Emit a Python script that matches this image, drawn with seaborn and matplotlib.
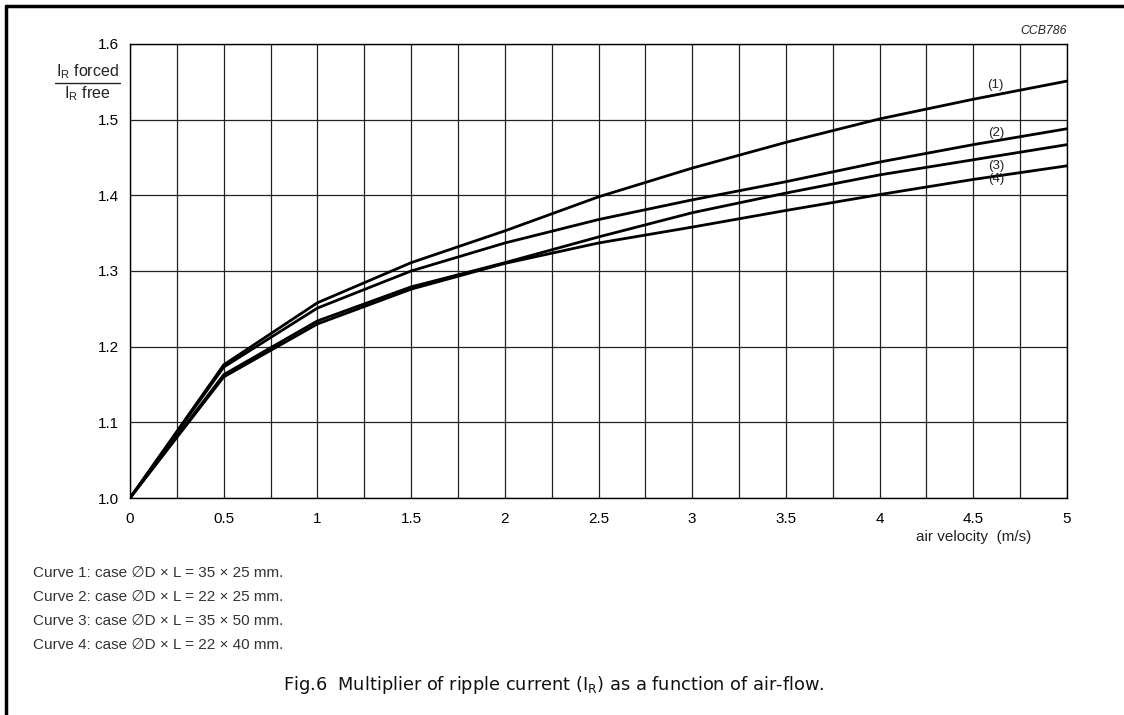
import numpy as np
import pandas as pd
import matplotlib
matplotlib.use("Agg")
import matplotlib.pyplot as plt
from matplotlib.lines import Line2D
import seaborn as sns

# data
air_velocity = [0, 0.5, 1, 1.5, 2, 2.5, 3, 3.5, 4, 4.5, 5]
curve_1 = [1.0, 1.176, 1.258, 1.311, 1.353, 1.398, 1.436, 1.470, 1.501, 1.527, 1.551]
curve_2 = [1.0, 1.173, 1.251, 1.300, 1.337, 1.368, 1.394, 1.418, 1.444, 1.467, 1.488]
curve_3 = [1.0, 1.163, 1.234, 1.279, 1.311, 1.345, 1.377, 1.403, 1.427, 1.447, 1.467]
curve_4 = [1.0, 1.160, 1.230, 1.276, 1.310, 1.337, 1.358, 1.380, 1.401, 1.421, 1.439]
curve_names = ["(1)", "(2)", "(3)", "(4)"]
label_x = [4.62, 4.62, 4.62, 4.62]
label_y = [1.546, 1.483, 1.439, 1.421]

x_ticks = [0, 0.5, 1, 1.5, 2, 2.5, 3, 3.5, 4, 4.5, 5]
x_tick_labels = ["0", "0.5", "1", "1.5", "2", "2.5", "3", "3.5", "4", "4.5", "5"]
y_ticks = [1.0, 1.1, 1.2, 1.3, 1.4, 1.5, 1.6]
y_tick_labels = ["1.0", "1.1", "1.2", "1.3", "1.4", "1.5", "1.6"]

legend_lines = [
    "Curve 1: case \u2205D \u00d7 L = 35 \u00d7 25 mm.",
    "Curve 2: case \u2205D \u00d7 L = 22 \u00d7 25 mm.",
    "Curve 3: case \u2205D \u00d7 L = 35 \u00d7 50 mm.",
    "Curve 4: case \u2205D \u00d7 L = 22 \u00d7 40 mm.",
]

# long form table for seaborn
df = pd.DataFrame({
    "v": air_velocity * 4,
    "mult": curve_1 + curve_2 + curve_3 + curve_4,
    "curve": sum([[n] * len(air_velocity) for n in curve_names], []),
})

sns.set_theme(style="white")
plt.rcParams["font.family"] = ["Liberation Sans", "DejaVu Sans"]
plt.rcParams["mathtext.fontset"] = "custom"
plt.rcParams["mathtext.rm"] = "Liberation Sans"

fig = plt.figure(figsize=(11.24, 7.15), dpi=100)
ax = fig.add_axes([130 / 1124, 1 - 498 / 715, (1067 - 130) / 1124, (498 - 44) / 715])

sns.lineplot(data=df, x="v", y="mult", units="curve", estimator=None,
             color="black", linewidth=2, ax=ax, legend=False, zorder=3)

ax.set_xlim(0, 5)
ax.set_ylim(1.0, 1.6)
ax.set_xticks(x_ticks)
ax.set_xticklabels(x_tick_labels)
ax.set_xticks(np.arange(0, 5.01, 0.25), minor=True)
ax.set_yticks(y_ticks)
ax.set_yticklabels(y_tick_labels)
ax.grid(True, which="both", color="#222222", linewidth=0.9)
ax.tick_params(axis="both", which="both", length=0, labelsize=11, colors="black")
ax.tick_params(axis="x", pad=10)
ax.tick_params(axis="y", pad=8)
for s in ax.spines.values():
    s.set_color("black")
    s.set_linewidth(1)
ax.set_xlabel("")
ax.set_ylabel("")

for n, lx, ly in zip(curve_names, label_x, label_y):
    ax.text(lx, ly, n, fontsize=9.5, color="#222222", ha="center", va="center")

# axis titles
ax.text(4.5, -0.085, "air velocity  (m/s)", transform=ax.get_xaxis_transform(),
        fontsize=11, color="#222222", ha="center", va="center")
fig.text(87 / 1124, 1 - 72 / 715, r"$\mathregular{I_R}$ forced", fontsize=11.5,
         ha="center", va="center", color="#222222")
fig.text(87 / 1124, 1 - 94 / 715, r"$\mathregular{I_R}$ free", fontsize=11.5,
         ha="center", va="center", color="#222222")
fig.add_artist(Line2D([55 / 1124, 120 / 1124], [1 - 83 / 715, 1 - 83 / 715],
                      color="#222222", linewidth=1))

fig.text(1067 / 1124, 1 - 31 / 715, "CCB786", fontsize=8.8, style="italic",
         ha="right", va="center", color="#222222")

for i, line in enumerate(legend_lines):
    fig.text(33 / 1124, 1 - (573 + 24 * i) / 715, line, fontsize=11,
             ha="left", va="center", color="#333333")

fig.text(283 / 1124, 1 - 685 / 715,
         r"Fig.6  Multiplier of ripple current ($\mathregular{I_R}$) as a function of air-flow.",
         fontsize=12.8, ha="left", va="center", color="#111111", family=["DejaVu Sans"])

# page frame (top and left edges)
fig.add_artist(Line2D([6 / 1124, 1], [1 - 6 / 715, 1 - 6 / 715], color="black", linewidth=2.5))
fig.add_artist(Line2D([6 / 1124, 6 / 1124], [0, 1 - 6 / 715], color="black", linewidth=2.5))

fig.savefig("out.png", dpi=100)
